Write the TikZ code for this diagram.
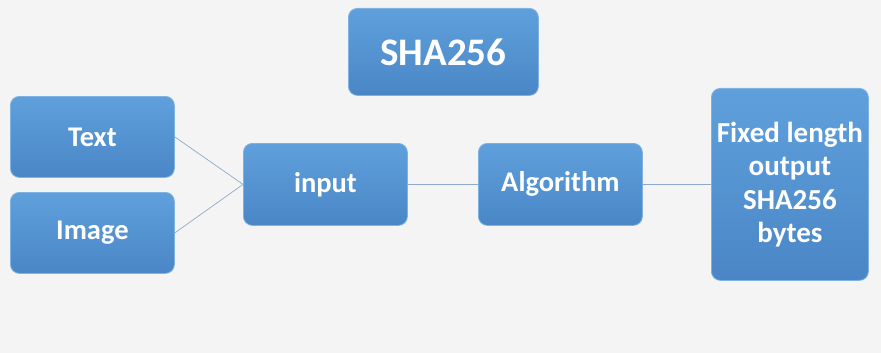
\documentclass[tikz,border=0pt]{standalone}
\usepackage{fontspec}
\setmainfont{Carlito}
\definecolor{bgc}{HTML}{F4F4F4}
\definecolor{boxtop}{HTML}{5FA0DC}
\definecolor{boxbot}{HTML}{4A86C6}
\definecolor{boxline}{HTML}{7DB2E2}
\definecolor{linkc}{HTML}{8EAACB}
\tikzset{
  blue box/.style={draw=boxline, line width=0.8pt, rounded corners=9pt,
    top color=boxtop, bottom color=boxbot, text=white,
    font=\bfseries\fontsize{28.5}{33}\selectfont, align=center,
    inner sep=0pt, anchor=north west},
  link/.style={draw=linkc, line width=0.7pt}
}
\begin{document}
\begin{tikzpicture}[x=1pt,y=-1pt]
\fill[bgc] (0,0) rectangle (881,353);
\useasboundingbox (0,0) rectangle (881,353);
\node[blue box, minimum width=190pt, minimum height=87pt, font=\bfseries\fontsize{39}{44}\selectfont] (title) at (348,8) {SHA256};
\node[blue box, minimum width=164pt, minimum height=81pt] (text) at (10,96) {Text};
\node[blue box, minimum width=164pt, minimum height=81pt] (image) at (10,192) {Image};
\node[blue box, minimum width=164pt, minimum height=82pt] (input) at (243,143) {input};
\node[blue box, minimum width=164pt, minimum height=82pt] (algo) at (478,143) {Algorithm};
\node[blue box, minimum width=157pt, minimum height=192pt, font=\bfseries\fontsize{29}{33}\selectfont] (out) at (711,88) {Fixed length\\output\\[1pt]SHA256\\bytes};
\draw[link] (text.east) -- (input.west);
\draw[link] (image.east) -- (input.west);
\draw[link] (input.east) -- (algo.west);
\draw[link] (algo.east) -- (out.west |- algo.east);
\end{tikzpicture}
\end{document}
